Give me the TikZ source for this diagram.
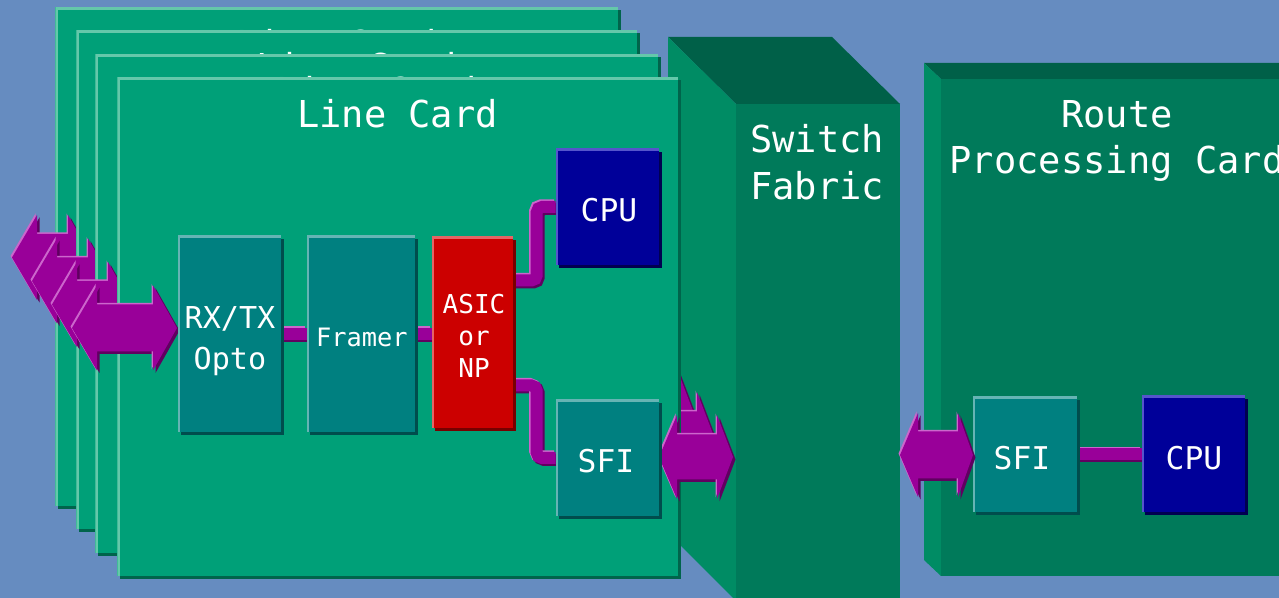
\documentclass[tikz,border=0pt]{standalone}
\usepackage{fontspec}
\setmonofont{DejaVu Sans Mono}
\usetikzlibrary{calc,shadows}
\definecolor{bg}{RGB}{102,140,192}
\definecolor{cardg}{RGB}{0,160,120}
\definecolor{cardlt}{RGB}{100,200,170}
\definecolor{carddk}{RGB}{0,100,75}
\definecolor{sffront}{RGB}{0,122,90}
\definecolor{sftop}{RGB}{0,96,72}
\definecolor{sfside}{RGB}{0,140,100}
\definecolor{tealb}{RGB}{0,128,128}
\definecolor{teallt}{RGB}{102,180,180}
\definecolor{tealdk}{RGB}{0,77,77}
\definecolor{cpub}{RGB}{0,0,153}
\definecolor{cpult}{RGB}{85,85,204}
\definecolor{cpudk}{RGB}{0,0,80}
\definecolor{asicr}{RGB}{204,0,0}
\definecolor{asiclt}{RGB}{230,100,100}
\definecolor{asicdk}{RGB}{120,0,0}
\definecolor{purp}{RGB}{153,0,153}
\definecolor{purplt}{RGB}{204,102,204}
\definecolor{purpdk}{RGB}{96,0,96}

\pgfdeclarelayer{back}
\pgfdeclarelayer{pipes}
\pgfsetlayers{back,pipes,main}

\newcommand\pxu{0.75pt}

\tikzset{
  box3d/.style n args={3}{draw=none, fill=#1, inner sep=0pt,
    drop shadow={shadow xshift=2.25pt, shadow yshift=-2.25pt, fill=#3, opacity=1},
    path picture={\draw[#2, line width=3.5pt]
      (path picture bounding box.south west) -- (path picture bounding box.north west)
      -- (path picture bounding box.north east);}},
  cardbox/.style={box3d={cardg}{cardlt}{carddk}},
  tealbox/.style={box3d={tealb}{teallt}{tealdk}},
  cpubox/.style={box3d={cpub}{cpult}{cpudk}},
  asicbox/.style={box3d={asicr}{asiclt}{asicdk}},
  face/.style={draw=none, inner sep=0pt, anchor=north west},
  ttl/.style={font=\ttfamily\fontsize{27.8}{34}\selectfont, text=white, inner sep=0pt},
  bigtxt/.style={font=\ttfamily\fontsize{27.8}{35}\selectfont, text=white, inner sep=0pt, align=center},
  optotxt/.style={font=\ttfamily\fontsize{22.6}{30.75}\selectfont, text=white, inner sep=0pt, align=center},
  framertxt/.style={font=\ttfamily\fontsize{19}{24}\selectfont, text=white, inner sep=0pt},
  asictxt/.style={font=\ttfamily\fontsize{19.5}{24}\selectfont, text=white, inner sep=0pt, align=center},
  chiptxt/.style={font=\ttfamily\fontsize{23.5}{28}\selectfont, text=white, inner sep=0pt},
}

% line card: name, L, T, R, B
\newcommand\linecard[5]{%
  \node[cardbox, anchor=north west, minimum width={(#4-#2)*0.75pt}, minimum height={(#5-#3)*0.75pt}] (#1) at (#2,#3) {};
  \node[ttl, anchor=base] (#1title) at ({(#2+#4)/2},#3+51) {Line Card};
}

% fat double arrow: xl, xr, yc, head half height, shaft half height, left head len, right head len
\newcommand\fatarrow[7]{%
  \foreach \dx/\dy/\col in {2.5/2.5/purpdk,-1.5/-1.5/purplt,0/0/purp}{
    \fill[\col, shift={(\dx,\dy)}] (#1,#3) -- (#1+#6,#3-#4) -- (#1+#6,#3-#5) -- (#2-#7,#3-#5)
      -- (#2-#7,#3-#4) -- (#2,#3) -- (#2-#7,#3+#4) -- (#2-#7,#3+#5) -- (#1+#6,#3+#5)
      -- (#1+#6,#3+#4) -- cycle;
  }
}

\newcommand\purplepipe[1]{%
  \draw[purpdk, line width=9pt, rounded corners=4pt, transform canvas={shift={(2,2)}}] #1;
  \draw[purplt, line width=9pt, rounded corners=4pt, transform canvas={shift={(-1.5,-1.5)}}] #1;
  \draw[purp, line width=9pt, rounded corners=4pt] #1;
}

\begin{document}
\begin{tikzpicture}[x=0.75pt, y=-0.75pt]
\useasboundingbox (0,0) rectangle (1279,598);
\clip (0,0) rectangle (1279,598);

\begin{pgfonlayer}{back}
\fill[bg] (0,0) rectangle (1279,598);

% switch fabric
\fill[sftop] (668,37) -- (832,37) -- (900,104) -- (736,104) -- cycle;
\fill[sfside] (668,37) -- (736,104) -- (736,601) -- (668,533) -- cycle;
\node[face, fill=sffront, minimum width={164*\pxu}, minimum height={500*\pxu}] (sf) at (736,104) {};
\node[bigtxt] (sflbl) at (817,162) {Switch\\Fabric};

% route processing card
\fill[sftop] (924,63) -- (1290,63) -- (1290,79) -- (941,79) -- cycle;
\fill[sfside] (924,63) -- (941,79) -- (941,576) -- (924,560) -- cycle;
\node[face, fill=sffront, minimum width={350*\pxu}, minimum height={497*\pxu}] (rp) at (941,79) {};
\node[bigtxt] (rplbl) at (1117,141) {Route\\Processing Card};

% stacked line cards with their arrows
\linecard{card1}{55}{7}{618}{506}
\fatarrow{12}{92}{257.5}{42.5}{23.5}{25}{24}
\fatarrow{599}{673}{388}{42}{22.5}{18}{16}
\linecard{card2}{76}{30}{637}{529}
\fatarrow{32}{112}{281}{42.5}{23.5}{25}{24}
\fatarrow{619}{693}{411}{42}{22.5}{18}{16}
\linecard{card3}{95}{54}{658}{553}
\fatarrow{52}{132}{304.5}{42.5}{23.5}{25}{24}
\fatarrow{639}{713}{434}{42}{22.5}{18}{16}
\linecard{card4}{117}{77}{678}{576}
\fatarrow{72}{177}{328}{42.5}{23.5}{25}{24}
\fatarrow{659}{733}{457}{42}{22.5}{18}{16}
\end{pgfonlayer}

% line card blocks
\node[tealbox, minimum width={103*\pxu}, minimum height={196*\pxu}] (opto) at (229.5,334) {};
\node[tealbox, minimum width={108*\pxu}, minimum height={196*\pxu}] (framer) at (361,334) {};
\node[asicbox, minimum width={81*\pxu}, minimum height={191*\pxu}] (asic) at (472.5,332.5) {};
\node[cpubox, minimum width={103*\pxu}, minimum height={116*\pxu}] (cpu) at (607.5,207) {};
\node[tealbox, minimum width={103*\pxu}, minimum height={116*\pxu}] (sfi) at (607.5,458) {};

\node[optotxt] (optolbl) at (230,341) {RX/TX\\Opto};
\node[framertxt, anchor=base] (framerlbl) at (362,347) {Framer};
\node[asictxt] (asiclbl) at (474,336) {ASIC\\or\\NP};
\node[chiptxt, anchor=base] (cpulbl) at (609,222) {CPU};
\node[chiptxt, anchor=base] (sfilbl) at (606,473) {SFI};

% route processor blocks
\node[tealbox, minimum width={104*\pxu}, minimum height={115*\pxu}] (rpsfi) at (1025,454.5) {};
\node[cpubox, minimum width={103*\pxu}, minimum height={116*\pxu}] (rpcpu) at (1193.5,454) {};
\node[chiptxt, anchor=base] (rpsfilbl) at (1022,470) {SFI};
\node[chiptxt, anchor=base] (rpcpulbl) at (1194,470) {CPU};
\fatarrow{900}{973}{455}{42}{23.5}{18}{15}

% connectors (under the blocks)
\begin{pgfonlayer}{pipes}
\purplepipe{(opto.east) -- (opto.east -| framer.west)}
\purplepipe{(framer.east) -- (framer.east -| asic.west)}
\purplepipe{($(asic.east)+(0,-52)$) -| ($(cpu.west)+(-19,0)$) -- (cpu.west)}
\purplepipe{($(asic.east)+(0,53)$) -| ($(sfi.west)+(-19,0)$) -- (sfi.west)}
\purplepipe{(rpsfi.east) -- (rpsfi.east -| rpcpu.west)}
\end{pgfonlayer}
\end{tikzpicture}
\end{document}
